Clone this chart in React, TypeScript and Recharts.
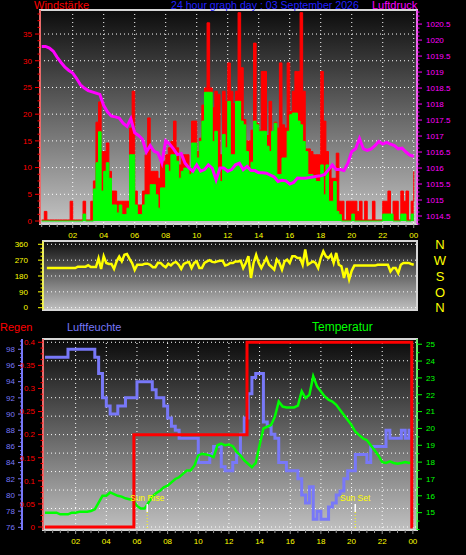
import React from 'react';
import { ComposedChart, Area, Line, XAxis, YAxis, CartesianGrid, ReferenceArea, ReferenceLine } from 'recharts';

const FONT = '"Liberation Sans", Arial, sans-serif';

// ---------- DATA ----------
// Wind speed, 10-minute samples starting 00:00
const windStepHours = 1 / 6;
const windGust = [
  0.2, 1.8, 0.2, 0.2, 0.2, 0.2, 0.2, 0.2, 0.2, 0.2,
  0.2, 3.7, 0.2, 0.2, 0.2, 0.2, 3.7, 0.2, 0.2, 3.7,
  7.5, 18.5, 22.3, 13, 13, 14.6, 9.3, 5.6, 5.6, 3.7,
  3.7, 3.7, 3.7, 3.7, 17.4, 24.3, 5.6, 3, 3, 5.6,
  12.4, 19.3, 9.3, 9.3, 9.3, 8, 11.2, 11.2, 12.4, 13.7,
  14.9, 18.7, 13.7, 10.5, 12.4, 12.4, 12.4, 10, 18.7, 18.7,
  13, 15.5, 21.7, 24.9, 37.1, 24.9, 21.2, 24.3, 23.7, 12.4,
  24.3, 22.4, 29.6, 24.3, 22, 24.3, 39, 28.7, 19, 15,
  15, 17, 33.3, 18.3, 17, 28, 28, 16, 22.4, 15.5,
  18.5, 17.4, 29.6, 18, 17.4, 29.6, 20.5, 24.3, 28, 28,
  39, 24.3, 13.5, 13.5, 13, 12.4, 12.4, 12.4, 28, 18.7,
  13, 10, 8, 8, 12.7, 3.7, 3.7, 0.2, 3.7, 3.7,
  3.7, 3.7, 1.8, 3.7, 0.2, 3.7, 0.2, 0.2, 3.7, 0.2,
  0.2, 0.2, 3.7, 3.7, 5.6, 0.2, 3.7, 3.7, 0.2, 5.6,
  3.7, 5.6, 0.2, 3.7, 9.3,
];
const windAvg = [
  0, 0, 0, 0, 0, 0, 0, 0, 0, 0,
  0, 0, 0, 0, 0, 0, 1.3, 0, 0, 0,
  6, 10.9, 16.7, 5.6, 9.3, 10.9, 8, 3, 3, 1.5,
  3, 1.2, 1.2, 2.4, 12.4, 12.4, 3, 1.2, 1.2, 3,
  4.9, 4.9, 6.8, 6.8, 4.9, 2.4, 6.2, 6.2, 10.5, 9.3,
  12.4, 12.4, 11.2, 8, 9.3, 9.9, 9.9, 8.7, 14.6, 14.6,
  11.8, 14.9, 18.7, 24.1, 24.1, 24.1, 14.9, 16.8, 9.9, 7.4,
  16.2, 13.7, 22.4, 12.4, 12.4, 22.4, 22.4, 18.7, 18, 13,
  9.3, 11, 18.7, 18, 16.8, 16.8, 16.8, 14, 13, 16.8,
  18.3, 8.7, 8.7, 11.8, 11.8, 16.8, 19.9, 20.2, 20.2, 18.7,
  18, 14.9, 13, 8.7, 8.7, 8, 7.4, 7.4, 10.5, 4.9,
  10.5, 3.7, 3.7, 7.4, 1.8, 1.2, 0, 0, 0, 0,
  1.3, 0, 0, 0, 0, 0, 0, 0, 0, 0,
  0, 0, 1.3, 1.3, 1.3, 1.3, 0, 0, 0, 1.3,
  1.3, 0, 0, 1.3, 1.3,
];

// Air pressure, 15-minute samples starting 00:00
const pressureStepHours = 0.25;
const pressure = [
  1019.80, 1019.80, 1019.75, 1019.65, 1019.46, 1019.30, 1019.15, 1019.05, // 0-1.75
  1018.97, 1018.80, 1018.60, 1018.50, 1018.42, 1018.38, 1018.34, 1018.30, // 2-3.75
  1017.95, 1017.75, 1017.62, 1017.60, 1017.56, 1017.40, 1017.30, 1017.54, // 4-5.75
  1017.10, 1017.02, 1016.90, 1016.50, 1016.70, 1016.52, 1016.47, 1016.16, // 6-7.75
  1016.85, 1016.75, 1016.60, 1016.42, 1016.45, 1016.15, 1016.00, 1015.90, // 8-9.75
  1016.10, 1015.90, 1015.95, 1016.10, 1016.00, 1015.63, 1016.00, 1016.00, // 10-11.75
  1015.90, 1015.95, 1016.10, 1016.15, 1015.95, 1016.05, 1015.92, 1015.92, // 12-13.75
  1015.85, 1015.85, 1015.84, 1015.78, 1015.72, 1015.58, 1015.62, 1015.60, // 14-15.75
  1015.50, 1015.55, 1015.69, 1015.68, 1015.68, 1015.70, 1015.72, 1015.74, // 16-17.75
  1015.76, 1015.80, 1015.95, 1016.10, 1015.95, 1015.95, 1015.92, 1016.15, // 18-19.75
  1016.52, 1016.60, 1016.92, 1016.60, 1016.55, 1016.60, 1016.70, 1016.83, // 20-21.75
  1016.75, 1016.80, 1016.75, 1016.70, 1016.60, 1016.62, 1016.50, 1016.40, // 22-23.75
  1016.37,
];

// Wind direction, 10-minute samples starting 00:20
const dirStartHour = 1 / 3;
const dirStepHours = 1 / 6;
const windDir = [
  225, 225, 225, 225, 225, 225, 225, 225, 225, 225, 225, 225,
  233, 233, 233, 233,
  241, 231, 231, 231,
  280, 220, 292, 254, 248, 248, 220, 263,
  290, 263, 300, 305, 277, 254, 215, 244, 244, 244,
  250, 250, 244, 230, 230, 255, 254, 240, 230, 250,
  240, 254, 260, 244, 220, 248, 256, 260, 225, 254,
  263, 225, 225, 254, 263, 270, 260, 258, 263, 267,
  267, 240, 244, 254, 254, 263, 263, 267, 225, 254,
  292, 169, 254, 300, 254, 225, 254, 282, 244, 231,
  216, 273, 254, 216, 263, 273, 254, 292, 292, 282,
  282, 244, 330, 244, 254, 263, 254, 225, 282, 320,
  292, 282, 301, 254, 311, 244, 235, 169, 225, 160,
  210, 239, 239, 239, 239, 239, 239, 239, 239, 239,
  244, 244, 244, 244, 244, 206, 225, 225, 197, 244,
  254, 254, 254, 248, 244,
];

// Humidity and temperature, 15-minute samples starting 00:00
const climateStepHours = 0.25;
const humidity = [
  97, 97, 97, 97, 97, 97, 98, 98, 98, 98,
  98, 98, 98, 97, 95, 92, 91, 90, 90, 91,
  91, 92, 92, 92, 94, 94, 94, 94, 93, 92,
  92, 91, 89.5, 88.5, 88, 87, 87, 87, 87,
  87, 84, 84, 84, 85, 86, 86, 83.5, 83, 83, 84, 85,
  87.5, 89.5, 92.5, 94.5, 95, 95, 89, 88.5, 87.5, 87,
  84, 84, 83, 83, 83, 82, 80, 79, 81, 77,
  78, 77, 77, 78.5, 79, 80, 80.5, 82, 83, 83,
  85, 85, 85, 84, 86, 86, 86, 86, 88, 87,
  87, 87, 88, 87, 88, 88,
];
const temperature = [
  15.0, 15.0, 15.0, 15.0, 14.9, 14.9, 14.9, 15.0, 15.0, 15.05,
  15.05, 15.05, 15.1, 15.2, 15.6, 16.0, 16.0, 16.2, 16.1, 16.0,
  15.95, 15.85, 15.8, 15.75, 15.4, 15.24, 15.24, 15.6, 15.95, 16.15,
  16.3, 16.5, 16.6, 16.8, 17.0, 17.1, 17.3, 17.5, 17.5,
  17.8, 18.4, 18.5, 18.45, 18.4, 18.3, 19.0, 19.1, 19.0, 19.05, 18.95, 18.6,
  18.4, 18.1, 17.9, 17.7, 17.95, 19.0, 20.0, 20.1, 20.2, 20.7,
  21.6, 21.3, 21.25, 21.25, 21.25, 21.35, 22.2, 21.8, 22.0, 23.1,
  22.5, 22.2, 21.9, 21.7, 21.6, 21.4, 21.1, 20.8, 20.5, 20.2,
  19.8, 19.6, 19.4, 19.3, 19.0, 18.7, 18.4, 18.0, 17.95, 18.05,
  17.95, 17.9, 17.95, 18.0, 17.95, 18.0,
];

// Rain total (step changes)
const rainTimes = [0, 5.8, 13.18, 23.93, 24];
const rainTotals = [0, 0.2, 0.4, 0, 0];

// Sun events
const sunLabels = ['Sun Rise', 'Sun Set'];
const sunHours = [6.67, 20.24];

// Tick labels
const hourLabelValues = [2, 4, 6, 8, 10, 12, 14, 16, 18, 20, 22, 24];
const windLabels = [0, 5, 10, 15, 20, 25, 30, 35];
const pressureLabels = [1014.5, 1015, 1015.5, 1016, 1016.5, 1017, 1017.5, 1018, 1018.5, 1019, 1019.5, 1020, 1020.5];
const dirLabels = [0, 90, 180, 270, 360];
const compassLetters = ['N', 'O', 'S', 'W', 'N'];
const humLabels = [76, 78, 80, 82, 84, 86, 88, 90, 92, 94, 96, 98];
const rainLabels = [0, 0.05, 0.1, 0.15, 0.2, 0.25, 0.3, 0.35, 0.4];
const tempLabels = [15, 16, 17, 18, 19, 20, 21, 22, 23, 24, 25];

// ---------- helpers ----------
const range = (a: number, b: number, step: number) => {
  const out: number[] = [];
  for (let i = 0; a + i * step <= b + 1e-9; i++) out.push(+(a + i * step).toFixed(5));
  return out;
};
const near = (arr: number[], v: number) => arr.some((a) => Math.abs(a - v) < 1e-6);

const windRows = windGust.map((g, i) => ({ h: i * windStepHours, gust: g, avg: windAvg[i] }));
const pressureRows = pressure.map((p, i) => ({ h: i * pressureStepHours, p }));
const dirRows = windDir.map((d, i) => ({ h: dirStartHour + i * dirStepHours, d }));
const humRows = humidity.map((v, i) => ({ h: i * climateStepHours, v }));
const tempRows = temperature.map((v, i) => ({ h: i * climateStepHours, v }));
const rainRows = rainTimes.map((h, i) => ({ h, v: rainTotals[i] }));

const hourTicks = range(0, 24, 0.5);

const xTick = (labelColor: string, lineColor: string) => (p: any) => {
  const v = Number(p.payload.value);
  const major = near(hourLabelValues, v);
  return (
    <g>
      <line x1={p.x} x2={p.x} y1={p.y} y2={p.y + (major ? 4 : 3)} stroke={lineColor} />
      {major && (
        <text x={p.x} y={p.y + 14} textAnchor="middle" fill={labelColor} fontSize={8} fontFamily={FONT}>
          {String(v % 24).padStart(2, '0')}
        </text>
      )}
    </g>
  );
};

type YT = { color: string; side: 'left' | 'right'; labels: number[]; fmt: (v: number) => string; major: number; minor: number; gap: number; fontSize?: number };
const yTick = (o: YT) => (p: any) => {
  const v = Number(p.payload.value);
  const isMajor = near(o.labels, v);
  const dir = o.side === 'left' ? -1 : 1;
  const len = isMajor ? o.major : o.minor;
  return (
    <g>
      <line x1={p.x} x2={p.x + dir * len} y1={p.y} y2={p.y} stroke={o.color} />
      {isMajor && (
        <text x={p.x + dir * (len + o.gap)} y={p.y} dy="0.35em" textAnchor={o.side === 'left' ? 'end' : 'start'} fill={o.color} fontSize={o.fontSize ?? 8} fontFamily={FONT}>
          {o.fmt(v)}
        </text>
      )}
    </g>
  );
};

const compassTick = (p: any) => {
  const v = Number(p.payload.value);
  const idx = dirLabels.findIndex((d) => Math.abs(d - v) < 1e-6);
  return (
    <text x={p.x + 23} y={p.y} dy="0.36em" textAnchor="middle" fill="#ffff00" fontSize={13} fontFamily={FONT}>
      {idx >= 0 ? compassLetters[idx] : ''}
    </text>
  );
};

const fmtNum = (v: number) => String(+v.toFixed(2));

const BORDER = '#d6d6d6';
const GRID = '#ffffff';

// ---------- charts ----------
const TOP_X: [number, number] = [-0.11, 24.21];
const WIND_Y: [number, number] = [-0.56, 39.5];
const PRESS_Y: [number, number] = [1014.25, 1020.94];

function TopChart() {
  return (
    <ComposedChart width={466} height={245} margin={{ top: 10, right: 0, bottom: 0, left: 0 }}>
      <defs>
        <linearGradient id="bgTop" x1="0" y1="0" x2="0" y2="1">
          <stop offset="0%" stopColor="#0c0c0c" />
          <stop offset="100%" stopColor="#c3c3c3" />
        </linearGradient>
      </defs>
      <CartesianGrid yAxisId="wind" fill="url(#bgTop)" fillOpacity={1} stroke={GRID} strokeDasharray="1 3"
        horizontalValues={windLabels.filter((v) => v > 0)} verticalValues={hourLabelValues} />
      <XAxis type="number" dataKey="h" domain={TOP_X} allowDataOverflow ticks={hourTicks} interval={0}
        tickSize={0} tickMargin={0} tick={xTick('#ffff00', '#9a9a9a')} axisLine={false} height={21} />
      <YAxis yAxisId="wind" orientation="left" width={40} domain={WIND_Y} allowDataOverflow
        ticks={range(0, 39.5, 1.25)} interval={0} tickSize={0} tickMargin={0} axisLine={{ stroke: '#ff0000' }}
        tick={yTick({ color: '#ff0000', side: 'left', labels: windLabels, fmt: fmtNum, major: 5, minor: 2.5, gap: 3 })} />
      <YAxis yAxisId="press" orientation="right" width={49} domain={PRESS_Y} allowDataOverflow
        ticks={range(1014.25, 1020.94, 0.125)} interval={0} tickSize={0} tickMargin={0} axisLine={{ stroke: '#ff00ff' }}
        tick={yTick({ color: '#ff00ff', side: 'right', labels: pressureLabels, fmt: fmtNum, major: 5, minor: 2.5, gap: 4 })} />
      <Area yAxisId="wind" data={windRows} dataKey="gust" type="stepAfter" stroke="#ff0000" strokeWidth={1}
        fill="#ff0000" fillOpacity={1} isAnimationActive={false} dot={false} activeDot={false} />
      <Area yAxisId="wind" data={windRows} dataKey="avg" type="stepAfter" stroke="#00ff00" strokeWidth={1}
        fill="#00ff00" fillOpacity={1} isAnimationActive={false} dot={false} activeDot={false} />
      <Line yAxisId="press" data={pressureRows} dataKey="p" type="linear" stroke="#ff00ff" strokeWidth={3}
        dot={false} activeDot={false} isAnimationActive={false} />
      <ReferenceArea yAxisId="wind" x1={TOP_X[0]} x2={TOP_X[1]} y1={WIND_Y[0]} y2={WIND_Y[1]}
        fill="none" stroke={BORDER} strokeWidth={2} ifOverflow="visible" />
    </ComposedChart>
  );
}

const MID_X: [number, number] = [0.084, 24.21];
const DIR_Y: [number, number] = [-13.1, 378.7];

function DirChart() {
  return (
    <ComposedChart width={466} height={85} margin={{ top: 11, right: 0, bottom: 5, left: 0 }}>
      <defs>
        <linearGradient id="bgMid" x1="0" y1="0" x2="0" y2="1">
          <stop offset="0%" stopColor="#0e0e0e" />
          <stop offset="100%" stopColor="#c0c0c0" />
        </linearGradient>
      </defs>
      <CartesianGrid yAxisId="dir" fill="url(#bgMid)" fillOpacity={1} stroke={GRID} strokeDasharray="1 3"
        horizontalValues={dirLabels} vertical={false} />
      <XAxis type="number" dataKey="h" domain={MID_X} allowDataOverflow hide />
      <YAxis yAxisId="dir" orientation="left" width={43} domain={DIR_Y} allowDataOverflow
        ticks={range(0, 378, 22.5)} interval={0} tickSize={0} tickMargin={0} axisLine={{ stroke: '#ffff00' }}
        tick={yTick({ color: '#ffff00', side: 'left', labels: dirLabels, fmt: fmtNum, major: 5, minor: 2.5, gap: 10 })} />
      <YAxis yAxisId="compass" orientation="right" width={49} domain={DIR_Y} allowDataOverflow
        ticks={dirLabels} interval={0} tickSize={0} tickMargin={0} axisLine={false} tick={compassTick} />
      <Line yAxisId="dir" data={dirRows} dataKey="d" type="linear" stroke="#ffff00" strokeWidth={2.5}
        dot={false} activeDot={false} isAnimationActive={false} />
      <ReferenceArea yAxisId="dir" x1={MID_X[0]} x2={MID_X[1]} y1={DIR_Y[0]} y2={DIR_Y[1]}
        fill="none" stroke={BORDER} strokeWidth={2} ifOverflow="visible" />
    </ComposedChart>
  );
}

const BOT_X: [number, number] = [-0.13, 24.27];
const HUM_Y: [number, number] = [75.67, 99.27];
const RAIN_Y: [number, number] = [-0.0065, 0.4071];
const TEMP_Y: [number, number] = [13.97, 25.31];
const RAIN_ID = 'aRain';
const HUM_ID = 'bHum';

function ClimateChart() {
  return (
    <ComposedChart width={466} height={235} margin={{ top: 19, right: 0, bottom: 0, left: 0 }}>
      <defs>
        <linearGradient id="bgBot" x1="0" y1="0" x2="0" y2="1">
          <stop offset="0%" stopColor="#0a0a0a" />
          <stop offset="100%" stopColor="#c0c0c0" />
        </linearGradient>
      </defs>
      <CartesianGrid yAxisId={RAIN_ID} fill="url(#bgBot)" fillOpacity={1} stroke={GRID} strokeDasharray="1 3"
        horizontalValues={range(0, 0.4, 0.04)} verticalValues={hourLabelValues} />
      <XAxis type="number" dataKey="h" domain={BOT_X} allowDataOverflow ticks={hourTicks} interval={0}
        tickSize={0} tickMargin={0} tick={xTick('#ffff00', '#9a9a9a')} axisLine={false} height={25} />
      <YAxis yAxisId={RAIN_ID} orientation="left" width={21} domain={RAIN_Y} allowDataOverflow
        ticks={range(0, 0.4, 0.0125)} interval={0} tickSize={0} tickMargin={0} axisLine={{ stroke: '#ff0000' }}
        tick={yTick({ color: '#ff0000', side: 'left', labels: rainLabels, fmt: fmtNum, major: 5, minor: 2.5, gap: 3 })} />
      <YAxis yAxisId={HUM_ID} orientation="left" width={22} domain={HUM_Y} allowDataOverflow
        ticks={range(76, 99.2, 0.5)} interval={0} tickSize={0} tickMargin={0} axisLine={{ stroke: '#7878f8', strokeWidth: 2 }}
        tick={yTick({ color: '#7878f8', side: 'left', labels: humLabels, fmt: fmtNum, major: 4, minor: 2, gap: 3 })} />
      <YAxis yAxisId="temp" orientation="right" width={49} domain={TEMP_Y} allowDataOverflow
        ticks={range(14, 25.3, 0.5)} interval={0} tickSize={0} tickMargin={0} axisLine={{ stroke: '#00ff00' }}
        tick={yTick({ color: '#00ff00', side: 'right', labels: tempLabels, fmt: fmtNum, major: 5, minor: 2.5, gap: 4 })} />
      <Line yAxisId={HUM_ID} data={humRows} dataKey="v" type="stepAfter" stroke="#7878f8" strokeWidth={3}
        dot={false} activeDot={false} isAnimationActive={false} />
      <Line yAxisId="temp" data={tempRows} dataKey="v" type="linear" stroke="#00ff00" strokeWidth={2.5}
        dot={false} activeDot={false} isAnimationActive={false} />
      <Line yAxisId={RAIN_ID} data={rainRows} dataKey="v" type="stepAfter" stroke="#ff0000" strokeWidth={3}
        dot={false} activeDot={false} isAnimationActive={false} />
      {sunHours.map((h, i) => (
        <ReferenceLine key={'d' + i} yAxisId={HUM_ID} segment={[{ x: h, y: 77.89 }, { x: h, y: HUM_Y[0] }]}
          stroke="#ffff00" strokeDasharray="1 2" ifOverflow="visible" />
      ))}
      {sunHours.map((h, i) => (
        <ReferenceLine key={'t' + i} yAxisId={HUM_ID} segment={[{ x: h, y: 78.88 }, { x: h, y: 77.89 }]}
          stroke="#ffffff" strokeWidth={1.5} ifOverflow="visible"
          label={{ value: sunLabels[i], position: 'top', offset: 3, fill: '#ffff00', fontSize: 8.5, fontFamily: FONT }} />
      ))}
      <ReferenceArea yAxisId={HUM_ID} x1={BOT_X[0]} x2={BOT_X[1]} y1={HUM_Y[0]} y2={HUM_Y[1]}
        fill="none" stroke={BORDER} strokeWidth={2} ifOverflow="visible" />
    </ComposedChart>
  );
}

export default function App() {
  return (
    <div style={{ position: 'absolute', left: 0, top: 0, width: 466, height: 555, background: '#000', overflow: 'hidden', fontFamily: FONT }}>
      <div style={{ position: 'absolute', left: 0, top: 0 }}><TopChart /></div>
      <div style={{ position: 'absolute', left: 0, top: 230 }}><DirChart /></div>
      <div style={{ position: 'absolute', left: 0, top: 320 }}><ClimateChart /></div>
      <svg width={466} height={555} style={{ position: 'absolute', left: 0, top: 0, pointerEvents: 'none' }} fontFamily={FONT}>
        <text x={34} y={9} fill="#ff0000" fontSize={11}>Windstärke</text>
        <text x={171} y={9} fill="#2020ff" fontSize={10.6}>24 hour graph day : 03 September 2026</text>
        <text x={372} y={9} fill="#ff00ff" fontSize={11}>Luftdruck</text>
        <text x={0} y={331} fill="#ff0000" fontSize={11}>Regen</text>
        <text x={67} y={331} fill="#7878f8" fontSize={11}>Luftfeuchte</text>
        <text x={312} y={331} fill="#00ff00" fontSize={12}>Temperatur</text>
      </svg>
    </div>
  );
}
